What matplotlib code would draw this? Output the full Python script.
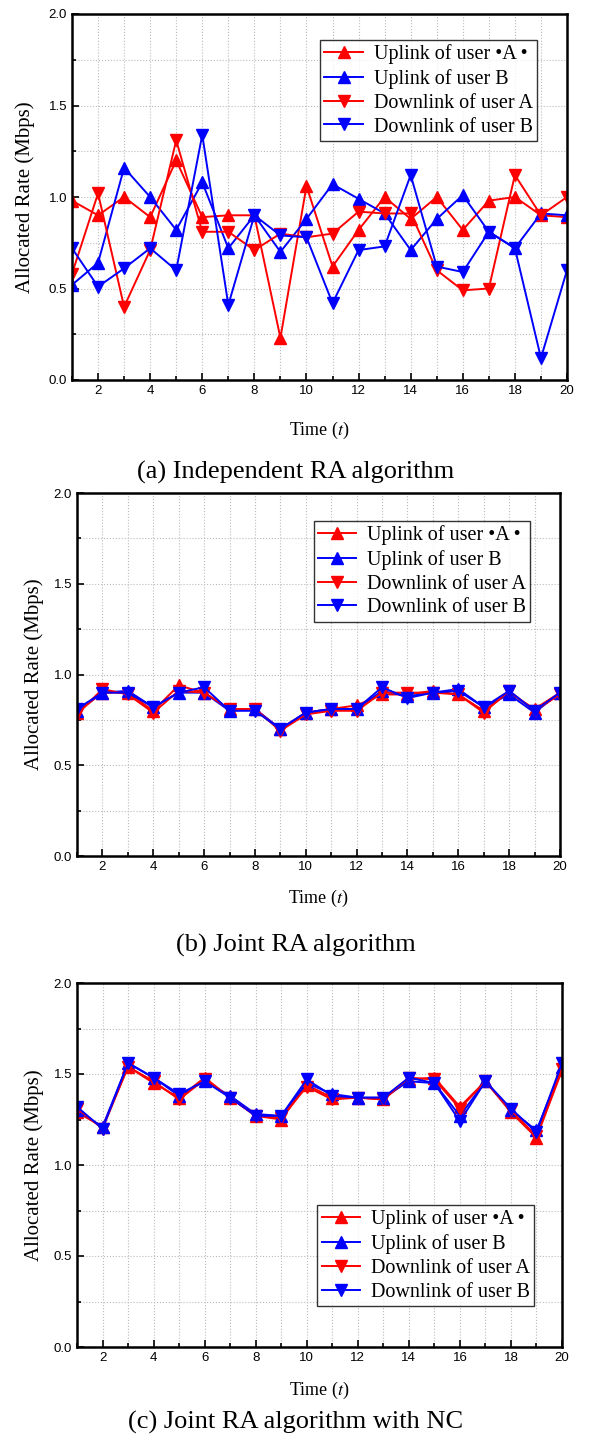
import matplotlib
matplotlib.use("Agg")
import matplotlib.pyplot as plt
from matplotlib.ticker import MultipleLocator, FormatStrFormatter

plt.rcParams['font.family'] = ['Liberation Serif', 'DejaVu Serif']
plt.rcParams['mathtext.fontset'] = 'stix'

t = list(range(1, 21))

# (a) Independent RA algorithm
up_a_1 = [0.98, 0.90, 1.00, 0.89, 1.20, 0.89, 0.90, 0.90, 0.23, 1.06,
          0.62, 0.82, 1.00, 0.88, 1.00, 0.82, 0.98, 1.00, 0.90, 0.89]
up_b_1 = [0.52, 0.64, 1.16, 1.00, 0.82, 1.08, 0.72, 0.90, 0.70, 0.88,
          1.07, 0.99, 0.91, 0.71, 0.88, 1.01, 0.81, 0.72, 0.91, 0.90]
dn_a_1 = [0.58, 1.02, 0.40, 0.71, 1.31, 0.81, 0.81, 0.71, 0.80, 0.78,
          0.80, 0.92, 0.91, 0.91, 0.60, 0.49, 0.50, 1.12, 0.90, 1.00]
dn_b_1 = [0.72, 0.51, 0.61, 0.72, 0.60, 1.34, 0.41, 0.90, 0.79, 0.78,
          0.42, 0.71, 0.73, 1.12, 0.62, 0.59, 0.81, 0.72, 0.12, 0.60]

# (b) Joint RA algorithm
up_a_2 = [0.79, 0.90, 0.90, 0.80, 0.94, 0.90, 0.81, 0.81, 0.70, 0.79,
          0.81, 0.83, 0.89, 0.89, 0.91, 0.89, 0.80, 0.90, 0.81, 0.90]
up_b_2 = [0.80, 0.90, 0.91, 0.82, 0.90, 0.90, 0.80, 0.81, 0.70, 0.79,
          0.81, 0.81, 0.91, 0.88, 0.90, 0.92, 0.82, 0.89, 0.79, 0.90]
dn_a_2 = [0.78, 0.92, 0.89, 0.79, 0.91, 0.90, 0.81, 0.81, 0.69, 0.78,
          0.80, 0.80, 0.90, 0.90, 0.90, 0.89, 0.79, 0.91, 0.80, 0.89]
dn_b_2 = [0.81, 0.90, 0.90, 0.82, 0.90, 0.93, 0.80, 0.80, 0.70, 0.79,
          0.81, 0.81, 0.93, 0.87, 0.90, 0.91, 0.82, 0.91, 0.80, 0.90]

# (c) Joint RA algorithm with NC
up_a_3 = [1.29, 1.21, 1.54, 1.45, 1.37, 1.48, 1.37, 1.27, 1.25, 1.44,
          1.37, 1.37, 1.36, 1.47, 1.48, 1.32, 1.46, 1.29, 1.15, 1.52]
up_b_3 = [1.30, 1.21, 1.56, 1.48, 1.38, 1.46, 1.38, 1.28, 1.27, 1.45,
          1.39, 1.37, 1.37, 1.46, 1.45, 1.27, 1.46, 1.30, 1.19, 1.54]
dn_a_3 = [1.31, 1.20, 1.54, 1.46, 1.36, 1.47, 1.37, 1.27, 1.26, 1.43,
          1.36, 1.37, 1.36, 1.48, 1.47, 1.31, 1.46, 1.30, 1.16, 1.53]
dn_b_3 = [1.32, 1.20, 1.56, 1.48, 1.39, 1.46, 1.37, 1.27, 1.27, 1.47,
          1.38, 1.37, 1.37, 1.48, 1.45, 1.24, 1.46, 1.31, 1.18, 1.56]

labels = ['Uplink of user \u2022A \u2022', 'Uplink of user B',
          'Downlink of user A', 'Downlink of user B']
colors = ['#ff0000', '#0000ff', '#ff0000', '#0000ff']
markers = ['^', '^', 'v', 'v']

W, H = 592, 1438

# (series, axes box in px: left, top, right, bottom, caption, caption y,
#  legend loc, legend anchor, ylabel x px, xlabel y px)
panels = [
    ([up_a_1, up_b_1, dn_a_1, dn_b_1], (72, 14, 567, 380),
     '(a) Independent RA algorithm', 472, 'upper right', (0.939, 0.929), 25, 430),
    ([up_a_2, up_b_2, dn_a_2, dn_b_2], (77, 493, 560, 856),
     '(b) Joint RA algorithm', 945, 'upper right', (0.938, 0.923), 34, 898),
    ([up_a_3, up_b_3, dn_a_3, dn_b_3], (77, 983, 562, 1347),
     '(c) Joint RA algorithm with NC', 1422, 'lower right', (0.942, 0.113), 34, 1390),
]

fig = plt.figure(figsize=(W / 100, H / 100), dpi=100)

for series, box, caption, cap_y, loc, anchor, ylab_x, xlab_y in panels:
    l, tp, r, b = box
    ax = fig.add_axes([l / W, 1 - b / H, (r - l) / W, (b - tp) / H])
    for vals, lab, c, m in zip(series, labels, colors, markers):
        ax.plot(t, vals, color=c, marker=m, markersize=8, linewidth=1.4, label=lab)
    ax.set_xlim(1, 20)
    ax.set_ylim(0, 2.0)
    ax.xaxis.set_major_locator(MultipleLocator(2))
    ax.xaxis.set_minor_locator(MultipleLocator(1))
    ax.yaxis.set_major_locator(MultipleLocator(0.5))
    ax.yaxis.set_minor_locator(MultipleLocator(0.25))
    ax.yaxis.set_major_formatter(FormatStrFormatter('%.1f'))
    ax.grid(True, which='both', color='#bbbbbb', linestyle=':', linewidth=0.8)
    ax.set_axisbelow(True)
    ax.tick_params(which='both', direction='in', top=False, right=False,
                   labelsize=9.5, width=1.2)
    ax.tick_params(which='major', length=5)
    ax.tick_params(which='minor', length=3)
    for lbl in ax.get_xticklabels() + ax.get_yticklabels():
        lbl.set_family('Liberation Sans')
    for s in ax.spines.values():
        s.set_linewidth(1.8)
    ax.set_xlabel('Time ($t$)', fontsize=13, va='center')
    ax.xaxis.set_label_coords(0.5, (b - xlab_y) / (b - tp))
    ax.set_ylabel('Allocated Rate (Mbps)', fontsize=15, va='center')
    ax.yaxis.set_label_coords((ylab_x - l) / (r - l), 0.5)
    leg = ax.legend(loc=loc, bbox_to_anchor=anchor, borderaxespad=0,
                    fontsize=14.5, frameon=True, fancybox=False,
                    borderpad=0.2, labelspacing=0.24, handlelength=1.9,
                    handletextpad=0.55)
    leg.get_frame().set_edgecolor('black')
    leg.get_frame().set_linewidth(1.0)
    fig.text(0.5, 1 - cap_y / H, caption, ha='center', va='center', fontsize=19)

fig.savefig('out.png', dpi=100)
